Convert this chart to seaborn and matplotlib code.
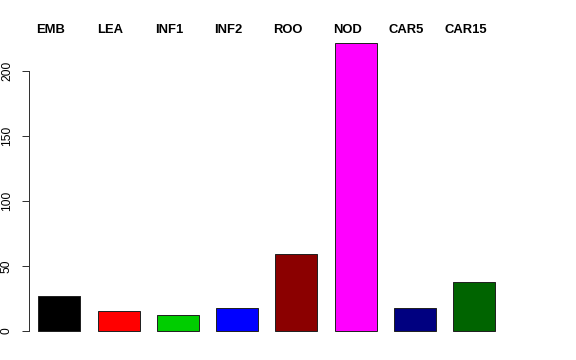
import matplotlib
matplotlib.use("Agg")
import matplotlib.pyplot as plt
import matplotlib.transforms as mtransforms
import seaborn as sns
import pandas as pd

categories = ["EMB", "LEA", "INF1", "INF2", "ROO", "NOD", "CAR5", "CAR15"]
values = [27, 15, 12, 17.5, 59, 221.5, 17.5, 38]
colors = ["#000000", "#FF0000", "#00CD00", "#0000FF", "#8B0000", "#FF00FF", "#000080", "#006400"]
yticks = [0, 50, 100, 150, 200]

sns.set_style("white")
plt.rcParams["font.family"] = ["Liberation Sans", "DejaVu Sans"]
plt.rcParams["text.color"] = "black"
plt.rcParams["ytick.color"] = "black"

df = pd.DataFrame({"tissue": categories, "value": values})

fig = plt.figure(figsize=(8, 5), dpi=72)
ax = fig.add_axes([29 / 576, 17.5 / 360, (504 - 29) / 576, (360 - 31 - 17.5) / 360])

sns.barplot(data=df, x="tissue", y="value", hue="tissue", palette=colors,
            order=categories, hue_order=categories, legend=False,
            width=0.708, edgecolor="#222222", linewidth=1, saturation=1, ax=ax)

ax.set_xlim(-0.51, 7.5)
ax.set_ylim(-8.88, 230.88)
ax.set_xlabel("")
ax.set_ylabel("")
ax.set_xticks([])
ax.set_yticks(yticks)
ax.set_yticklabels([str(t) for t in yticks], rotation=90, va="center", fontsize=12, color="black")
ax.tick_params(axis="y", direction="out", length=7, width=1, color="#333333", pad=9, left=True)
for s in ["top", "right", "bottom"]:
    ax.spines[s].set_visible(False)
ax.spines["left"].set_bounds(0, 200)
ax.spines["left"].set_color("#333333")
ax.spines["left"].set_linewidth(1)

trans = mtransforms.blended_transform_factory(ax.transData, fig.transFigure)
for i, lab in enumerate(categories):
    ax.text(i - 0.143, 1 - 30.3 / 360, lab, transform=trans, ha="center", va="center",
            fontsize=13, fontweight="bold", color="black", clip_on=False)

fig.savefig("out.png", dpi=72)
